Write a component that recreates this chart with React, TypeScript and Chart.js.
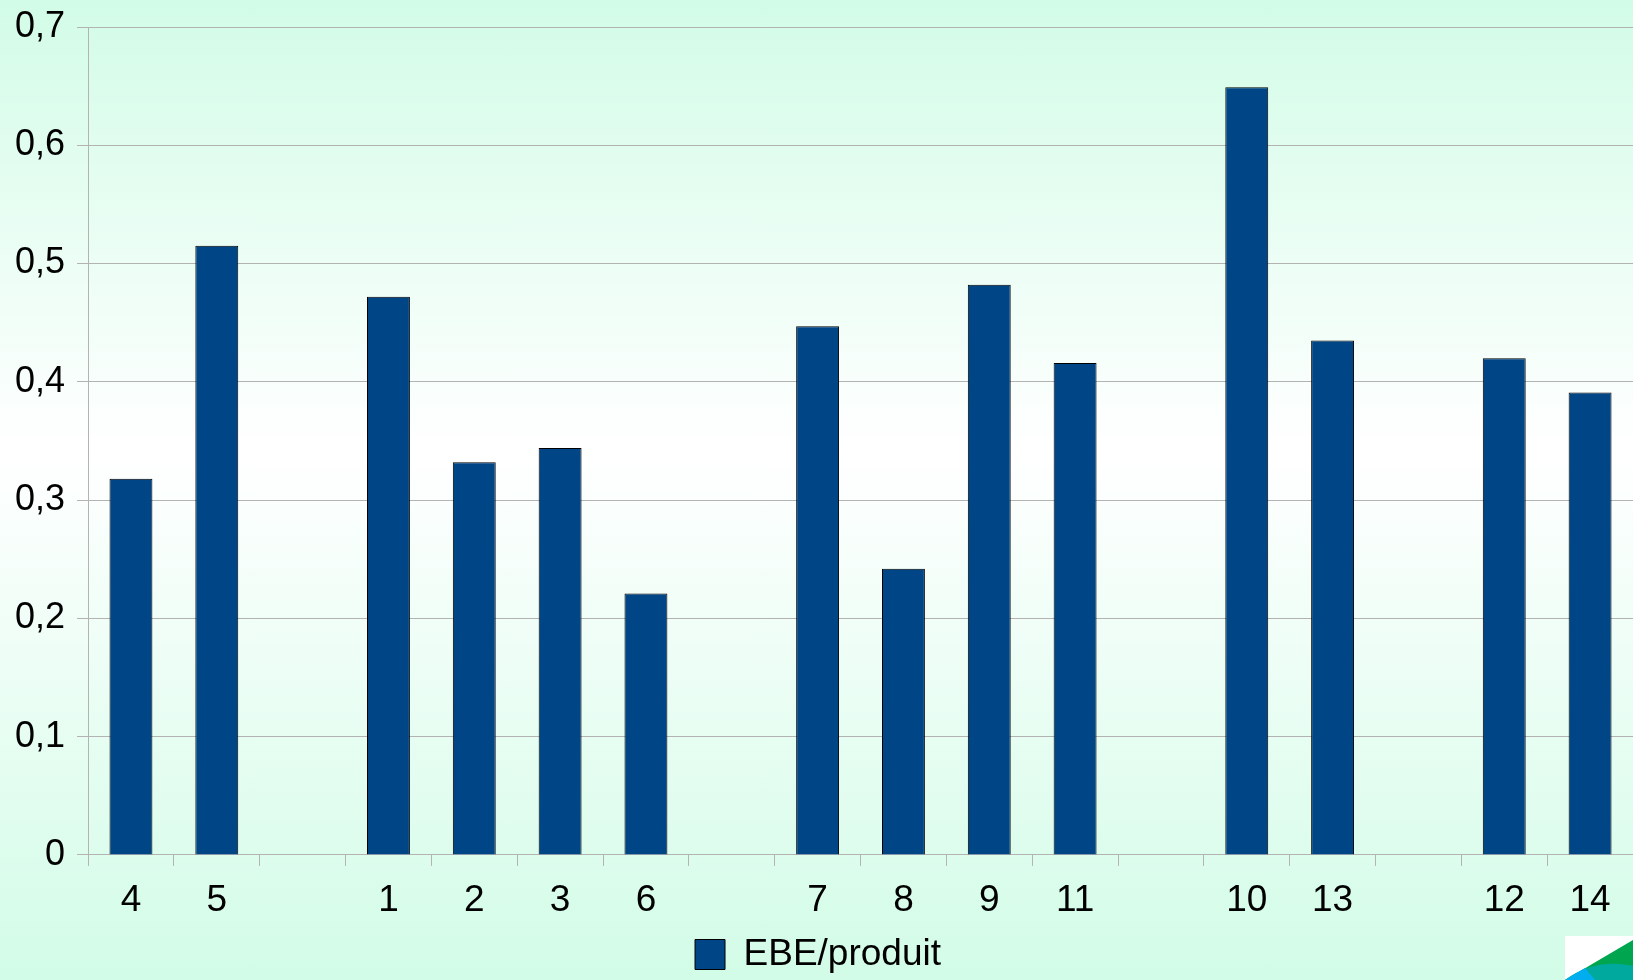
import React, { useEffect, useRef } from "react";
import { Chart, registerables } from "chart.js";

Chart.register(...registerables);

const categories: string[] = ["4", "5", "", "1", "2", "3", "6", "", "7", "8", "9", "11", "", "10", "13", "", "12", "14"];
const seriesLabel = "EBE/produit";
const seriesValues: (number | null)[] = [
  0.318, 0.515, null, 0.472, 0.332, 0.344, 0.221, null, 0.447, 0.242, 0.482, 0.416, null, 0.649, 0.435, null, 0.42, 0.391,
];
const yMin = 0;
const yMax = 0.7;
const yStep = 0.1;

const FONT = "'Liberation Sans', Arial, sans-serif";

export default function App() {
  const canvasRef = useRef<HTMLCanvasElement | null>(null);

  useEffect(() => {
    const canvas = canvasRef.current;
    if (!canvas) return;
    const chart = new Chart(canvas, {
      type: "bar",
      data: {
        labels: categories,
        datasets: [
          {
            label: seriesLabel,
            data: seriesValues,
            backgroundColor: "#004586",
            borderColor: "#000000",
            borderWidth: 1,
            barPercentage: 0.5,
            categoryPercentage: 1,
          },
        ],
      },
      options: {
        animation: false,
        responsive: false,
        devicePixelRatio: 1,
        layout: { padding: { left: 3, right: 0, top: 27, bottom: -3 } },
        plugins: {
          tooltip: { enabled: false },
          legend: {
            position: "bottom",
            labels: {
              boxWidth: 30,
              boxHeight: 30,
              color: "#000000",
              padding: 0,
              font: { family: FONT, size: 37, lineHeight: 1.0 },
            },
          },
        },
        scales: {
          x: {
            grid: {
              display: true,
              offset: true,
              drawOnChartArea: false,
              drawTicks: true,
              tickLength: 11,
              color: "#b3b3b3",
            },
            border: { display: true, color: "#b3b3b3" },
            ticks: {
              color: "#000000",
              padding: 11,
              autoSkip: false,
              maxRotation: 0,
              font: { family: FONT, size: 37, lineHeight: 1.3 },
            },
          },
          y: {
            min: yMin,
            max: yMax,
            grid: { color: "#b3b3b3", tickLength: 11 },
            border: { display: true, color: "#b3b3b3" },
            ticks: {
              stepSize: yStep,
              color: "#000000",
              padding: 12,
              font: { family: FONT, size: 36, lineHeight: 0.8 },
              callback: (v: any) => {
                const n = Number(v);
                if (Math.abs(n) < 1e-9) return "0";
                return n.toFixed(1).replace(".", ",");
              },
            },
          },
        },
      },
    });
    return () => chart.destroy();
  }, []);

  return (
    <div
      style={{
        position: "fixed",
        left: 0,
        top: 0,
        width: 1633,
        height: 980,
        overflow: "hidden",
        background: "linear-gradient(to bottom, #d2fce7 0%, #ffffff 46%, #d2fce7 100%)",
      }}
    >
      <canvas ref={canvasRef} width={1633} height={980} style={{ display: "block" }} />
      <svg
        width={68}
        height={44}
        viewBox="0 0 68 44"
        style={{ position: "absolute", left: 1565, top: 936 }}
      >
        <rect x={0} y={0} width={68} height={44} fill="#ffffff" />
        <polygon points="0,44 68,4 68,44" fill="#00a550" />
        <path d="M0,44 Q30,22 68,30 L68,44 Z" fill="#00a99d" />
        <polygon points="0,44 20,32 30,44" fill="#00aeef" />
      </svg>
    </div>
  );
}
